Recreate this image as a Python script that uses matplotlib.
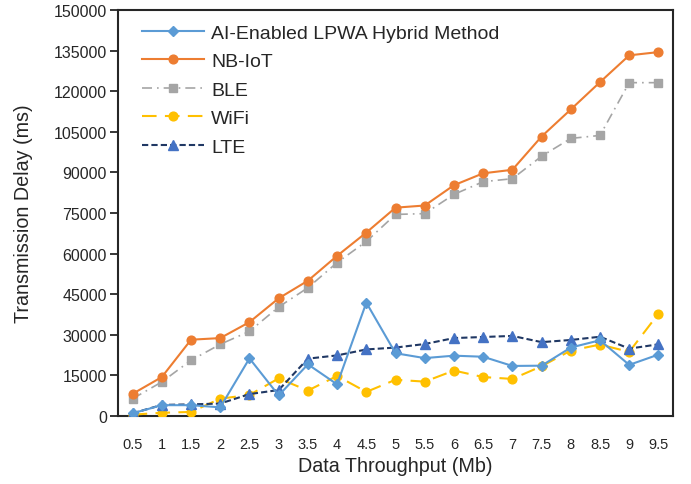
import matplotlib
matplotlib.use("Agg")
import matplotlib.pyplot as plt
from matplotlib import font_manager

x_labels = ["0.5", "1", "1.5", "2", "2.5", "3", "3.5", "4", "4.5", "5",
            "5.5", "6", "6.5", "7", "7.5", "8", "8.5", "9", "9.5"]

ai_hybrid = [1000, 4000, 4000, 3200, 21300, 7600, 19100, 11700, 41900, 23200,
             21400, 22300, 21900, 18500, 18600, 25300, 28000, 18900, 22700]
nb_iot = [8200, 14400, 28200, 28800, 34700, 43500, 50000, 59200, 67800, 77000,
          77800, 85300, 89700, 91000, 103300, 113300, 123400, 133300, 134500]
ble = [6400, 12600, 20600, 26500, 31300, 40300, 47400, 56700, 64500, 74500,
       74800, 81900, 86600, 87700, 96000, 102600, 103700, 123200, 123200]
wifi = [500, 1200, 1500, 6400, 7800, 13900, 9400, 14800, 8900, 13400,
        12700, 16800, 14400, 13700, 18400, 24200, 26400, 23700, 37800]
lte = [1000, 4100, 4300, 4600, 8100, 9600, 21200, 22400, 24600, 25300,
       26600, 28800, 29200, 29600, 27300, 28100, 29300, 24900, 26500]

y_ticks = list(range(0, 150001, 15000))

avail = {f.name for f in font_manager.fontManager.ttflist}
main_font = "Liberation Sans" if "Liberation Sans" in avail else "DejaVu Sans"
tick_font = "Liberation Sans Narrow" if "Liberation Sans Narrow" in avail else main_font

plt.rcParams["font.family"] = [main_font, "DejaVu Sans"]

TXT = "#262626"

fig = plt.figure(figsize=(6.91, 4.85), dpi=100)
ax = fig.add_axes([0.1708, 0.1402, 0.8032, 0.8368])

xs = list(range(len(x_labels)))
ax.plot(xs, ai_hybrid, color="#5B9BD5", lw=1.5, marker="D", ms=4.8,
        label="AI-Enabled LPWA Hybrid Method", zorder=5)
ax.plot(xs, nb_iot, color="#ED7D31", lw=1.5, marker="o", ms=6.3,
        label="NB-IoT", zorder=4)
ax.plot(xs, ble, color="#A5A5A5", lw=1.2, marker="s", ms=6, ls=(0, (6, 3, 1, 3)),
        label="BLE", zorder=3)
ax.plot(xs, wifi, color="#FFC000", lw=1.5, marker="o", ms=6.3, ls=(0, (7, 4)),
        label="WiFi", zorder=3)
ax.plot(xs, lte, color="#203864", lw=1.5, marker="^", ms=6.5, ls=(0, (3, 1.5)),
        mfc="#4472C4", mec="#4472C4", label="LTE", zorder=4)

ax.set_xlim(-0.5, len(x_labels) - 0.5)
ax.set_ylim(0, 150000)
ax.set_xticks(xs)
ax.set_xticklabels(x_labels, fontfamily=tick_font, fontsize=10.5)
ax.set_yticks(y_ticks)
ax.set_yticklabels([str(v) for v in y_ticks], fontsize=11.5)
ax.tick_params(axis="x", length=0, pad=15, colors=TXT)
ax.tick_params(axis="y", length=6, width=1.3, direction="out", pad=2, colors=TXT)

for s in ax.spines.values():
    s.set_color(TXT)
    s.set_linewidth(1.5)

ax.set_xlabel("Data Throughput (Mb)", fontsize=14.2, color=TXT)
ax.set_ylabel("Transmission Delay (ms)", fontsize=14.2, color=TXT)
ax.xaxis.set_label_coords(0.5, -0.122)
ax.xaxis.label.set_va("center")
ax.yaxis.set_label_coords(-0.171, 0.5)
ax.yaxis.label.set_va("center")

leg = ax.legend(loc="upper left", frameon=False, fontsize=14, handlelength=3.2,
                labelspacing=0.56, handletextpad=0.36, borderaxespad=0.0,
                bbox_to_anchor=(0.029, 0.985))
for t in leg.get_texts():
    t.set_color(TXT)

fig.savefig("out.png", dpi=100)
